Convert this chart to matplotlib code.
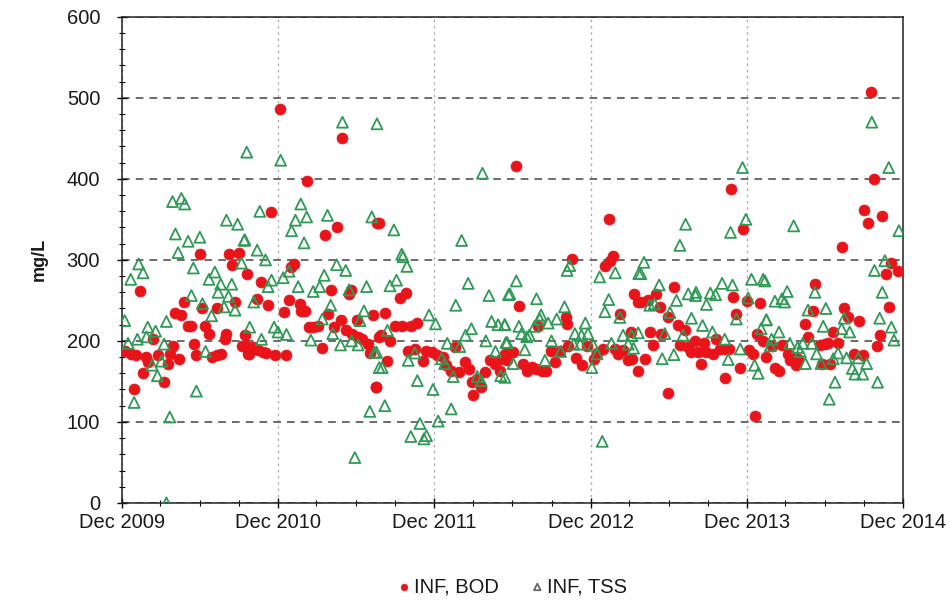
import numpy as np
import pandas as pd
import matplotlib
matplotlib.use("Agg")
import matplotlib.pyplot as plt
import matplotlib.dates as mdates

plt.rcParams["font.family"] = ["Liberation Sans", "DejaVu Sans"]

# months after Dec 2009 and concentration (mg/L)
bod_month = [0.23, 0.69, 1.13, 1.38, 0.95, 1.64, 1.9, 2.0, 2.4, 2.8, 3.25, 3.56, 3.7, 3.94, 4.4,
             4.07, 4.58, 4.8, 5.1, 5.35, 5.55, 5.73, 6.0, 6.2, 6.4, 6.7, 6.96, 7.35, 7.65, 7.35,
             7.9, 8.04, 8.24, 8.5, 9.0, 8.7, 9.2, 9.45, 9.65, 9.7,
             12.14, 16.95, 14.2, 11.5, 15.6, 16.5, 19.6, 13.24, 13.0, 10.73, 10.4, 11.24,
             12.85, 12.47, 13.67, 13.75, 14.06, 16.05, 15.85, 17.46, 17.64, 16.8, 16.3, 18.1,
             19.3, 14.4, 14.7, 15.1, 17.2, 17.7, 18.15, 18.46, 18.9, 19.05, 19.75, 15.4, 9.58,
             10.1, 10.5, 10.86, 9.8, 11.1, 11.75, 12.65, 19.5,
             19.74, 20.2, 21.86, 21.35, 20.97, 21.5, 22.2, 22.7, 19.94, 20.6, 22.0, 22.5, 20.4,
             19.56, 23.14, 23.4, 23.8, 24.2, 24.7, 24.93, 25.27, 25.57, 25.9, 26.34, 26.7, 26.86,
             27.0, 27.6, 27.3, 27.88, 28.26, 28.65, 29.03, 29.16, 29.4, 29.7,
             30.3, 37.4, 37.74, 37.5, 37.1, 34.6, 30.5, 39.35, 39.66, 38.25, 34.08, 34.2, 32.0,
             39.1, 29.8, 30.06, 29.55, 30.8, 31.1, 31.5, 31.85, 32.24, 32.6, 33.0, 33.3, 33.65,
             34.3, 34.85, 35.36, 35.7, 36.3, 36.5, 36.97, 37.9, 38.1, 38.5, 38.84, 39.15,
             46.77, 47.67, 42.4, 41.06, 39.9, 40.4, 41.3, 46.95, 47.98, 49.0, 47.2, 41.96, 42.7,
             43.24, 40.55, 41.4, 40.8, 42.85, 43.5, 44.0, 44.73, 43.75, 44.26, 44.9, 45.4, 45.6,
             45.93, 46.3, 46.6, 44.5, 40.17, 39.66, 48.2, 48.5, 48.75, 49.26, 49.5, 47.5, 46.3,
             41.96, 48.6,
             57.53, 57.79, 57.0, 57.3, 58.4, 55.28, 59.1, 58.66, 59.6, 53.23, 58.9, 55.48, 55.8,
             56.6, 53.05, 52.5, 54.64, 55.0, 58.2, 58.0, 52.7, 50.67, 49.9, 53.6, 54.0, 54.25,
             51.2, 51.6, 51.95, 51.3, 50.16, 50.47, 51.8, 56.2, 56.9, 53.74, 54.38]
bod_mgl = [188, 184, 183, 261, 141, 160, 180, 174, 202, 182, 149, 172, 184, 194, 178,
           235, 232, 248, 219, 219, 196, 183, 307, 240, 219, 209, 180, 183, 184, 241,
           202, 209, 307, 294, 309, 248, 194, 207, 282, 184,
           486, 451, 398, 359, 331, 340, 345, 295, 291, 273, 252, 244,
           251, 236, 245, 237, 237, 263, 233, 258, 263, 226, 217, 226,
           232, 217, 217, 219, 213, 209, 205, 202, 196, 185, 205, 191, 194,
           192, 189, 186, 184, 185, 183, 183, 143,
           345, 235, 259, 253, 219, 218, 219, 222, 207, 200, 187, 190, 175,
           143, 175, 188, 186, 183, 180, 170, 163, 192, 161, 174, 165, 149,
           133, 143, 153, 161, 176, 172, 163, 178, 184, 186,
           416, 351, 305, 299, 293, 301, 243, 258, 248, 233, 229, 221, 219,
           211, 185, 186, 176, 172, 163, 168, 165, 163, 163, 188, 174, 188,
           194, 179, 170, 194, 178, 185, 190, 190, 184, 189, 176, 178,
           387, 338, 266, 258, 248, 250, 242, 254, 249, 247, 233, 229, 220,
           213, 211, 209, 195, 195, 192, 200, 198, 186, 186, 186, 184, 202,
           190, 190, 190, 172, 178, 163, 189, 184, 209, 200, 180, 167, 154,
           136, 107,
           507, 400, 362, 345, 354, 316, 296, 283, 286, 270, 242, 240, 229,
           225, 237, 221, 211, 198, 207, 194, 205, 195, 194, 195, 196, 197,
           184, 180, 178, 176, 167, 163, 170, 184, 182, 172, 171]

tss_month = [0.23, 0.49, 0.69, 1.3, 1.64, 0.95, 1.2, 2.0, 1.9, 2.6, 2.33, 2.74, 3.05, 3.25, 3.43,
             3.69, 3.43, 3.9, 4.58, 4.84, 4.12, 4.33, 5.1, 6.0, 5.5, 5.73, 5.35, 6.2, 6.43, 6.9,
             6.7, 7.15, 7.6, 7.4, 7.86, 8.2, 8.45, 8.7, 8.04, 8.9, 9.4, 9.2, 9.6,
             16.95, 19.6, 12.2, 10.6, 13.75, 13.34, 14.2, 13.04, 15.8, 19.2, 14.0, 9.45, 10.4,
             11.04, 16.5, 17.2, 12.85, 12.4, 11.5, 11.24, 15.55, 15.2, 14.7, 13.55, 17.46, 18.8,
             10.14, 16.05, 18.6, 18.3, 15.4, 9.83, 11.7, 12.0, 12.65, 10.73, 16.2, 14.52, 16.8,
             17.64, 18.15, 19.4, 19.77, 19.05, 17.9,
             27.7, 26.1, 20.9, 21.5, 21.6, 21.9, 20.6, 21.1, 26.6, 28.2, 29.7, 25.65, 23.6,
             24.1, 20.4, 26.85, 28.4, 28.9, 29.4, 26.4, 25.0, 25.96, 27.96, 29.5, 19.56, 22.5,
             22.0, 24.55, 24.8, 20.0, 28.7, 25.45, 27.3, 27.6, 29.1, 22.7, 23.9, 20.2, 25.3,
             22.9, 24.3, 22.2, 23.2, 23.4,
             30.3, 29.8, 31.85, 34.4, 34.2, 36.7, 37.9, 39.7, 37.4, 37.1, 34.0, 38.25, 32.2,
             32.1, 33.4, 32.75, 35.6, 30.5, 31.7, 29.42, 30.7, 31.3, 31.1, 33.0, 34.8, 35.3,
             35.8, 38.5, 39.15, 29.6, 34.7, 35.2, 36.2, 37.6, 38.9, 39.3, 30.95, 33.7, 36.5,
             30.06, 32.5, 36.1, 29.42, 36.9,
             47.67, 47.93, 43.3, 46.75, 42.86, 40.1, 39.86, 48.36, 49.26, 46.1, 46.9, 41.27,
             43.5, 44.1, 44.06, 45.2, 45.6, 42.6, 48.1, 40.55, 40.9, 44.9, 42.1, 47.2, 43.75,
             44.6, 49.5, 39.66, 49.1, 41.7, 43.1, 45.36, 46.3, 47.5, 42.4, 41.5, 46.57, 48.6,
             48.87,
             57.6, 58.9, 59.68, 51.6, 58.6, 57.8, 53.23, 51.1, 50.7, 50.9, 50.16, 49.39, 58.4,
             52.7, 54.07, 49.5, 55.48, 58.2, 53.87, 55.28, 55.9, 59.1, 50.47, 59.3, 49.9, 51.3,
             52.3, 53.0, 49.8, 51.9, 53.36, 55.0, 52.1, 55.66, 56.56, 54.64, 52.5, 53.7, 57.2,
             56.1, 56.3, 56.9, 54.77, 58.04, 54.33]
tss_mgl = [225, 197, 276, 295, 284, 124, 202, 217, 205, 212, 170, 157, 175, 196, 224,
           106, 0, 372, 376, 369, 332, 309, 323, 328, 290, 138, 256, 246, 187, 231,
           276, 285, 270, 260, 242, 255, 270, 238, 349, 344, 324, 296, 433,
           470, 468, 423, 360, 369, 349, 353, 336, 355, 353, 321, 325, 312,
           300, 294, 287, 286, 278, 275, 267, 281, 267, 261, 267, 263, 267,
           248, 244, 237, 225, 227, 217, 217, 211, 208, 202, 209, 201, 195,
           200, 195, 186, 167, 113, 56,
           407, 324, 337, 307, 304, 292, 268, 275, 271, 256, 257, 244, 232,
           221, 213, 215, 224, 220, 220, 207, 197, 193, 200, 198, 186, 185,
           176, 178, 172, 167, 187, 156, 156, 151, 157, 151, 140, 120, 116,
           98, 101, 82, 79, 83,
           274, 258, 252, 293, 287, 279, 284, 283, 251, 236, 242, 229, 232,
           227, 227, 222, 222, 218, 218, 220, 209, 207, 205, 200, 209, 207,
           209, 207, 207, 198, 196, 196, 195, 197, 196, 191, 189, 187, 184,
           172, 176, 167, 155, 76,
           414, 350, 344, 334, 318, 297, 283, 276, 276, 271, 269, 269,
           258, 260, 256, 259, 257, 250, 253, 244, 246, 245, 235, 227, 228,
           219, 226, 210, 215, 209, 207, 211, 202, 190, 183, 178, 177, 170,
           160,
           470, 414, 336, 342, 299, 287, 260, 261, 252, 248, 249, 274, 260,
           238, 240, 226, 228, 228, 218, 215, 211, 217, 211, 201, 202, 197,
           197, 197, 194, 192, 184, 185, 187, 179, 179, 178, 172, 172, 172,
           166, 159, 159, 149, 149, 128]

start = pd.Timestamp("2009-12-01")
bod_dates = start + pd.to_timedelta(np.array(bod_month) * 30.4375, unit="D")
tss_dates = start + pd.to_timedelta(np.array(tss_month) * 30.4375, unit="D")

fig = plt.figure(figsize=(9.51, 6.03), dpi=100)
ax = fig.add_axes([0.128, 0.166, 0.8215, 0.806])

ax.scatter(bod_dates, bod_mgl, s=62, marker="o", color="#e8141a", edgecolors="#e8141a",
           linewidths=0.5, zorder=3, label="INF, BOD")
ax.scatter(tss_dates, tss_mgl, s=62, marker="^", facecolors="none", edgecolors="#2e9a55",
           linewidths=1.3, zorder=4, label="INF, TSS")

ax.set_xlim(pd.Timestamp("2009-12-01"), pd.Timestamp("2014-12-01"))
ax.set_ylim(0, 600)
ax.xaxis.set_major_locator(mdates.MonthLocator(bymonth=12, bymonthday=1))
ax.xaxis.set_minor_locator(mdates.MonthLocator(bymonth=[3, 6, 9], bymonthday=1))
ax.xaxis.set_major_formatter(mdates.DateFormatter("%b %Y"))
ax.set_yticks(np.arange(0, 601, 100))
ax.set_yticks(np.arange(0, 601, 20), minor=True)

ax.tick_params(which="major", direction="inout", length=7, width=1, labelsize=14.5,
               labelcolor="#1a1a1a")
ax.tick_params(axis="x", which="major", pad=4)
ax.tick_params(axis="y", which="major", pad=12)
ax.tick_params(which="minor", direction="inout", length=4, width=0.8)

ax.grid(axis="y", which="major", color="#444444", linestyle=(0, (5, 4)), linewidth=1.1)
ax.grid(axis="x", which="major", color="#aaaaaa", linestyle=(0, (2, 3)), linewidth=0.9)
ax.set_axisbelow(True)
for sp in ax.spines.values():
    sp.set_color("#222222")
    sp.set_linewidth(1.1)

ax.set_ylabel("mg/L", fontsize=13, fontweight="bold", labelpad=14, color="#1a1a1a")

leg = fig.legend(loc="center", bbox_to_anchor=(0.537, 0.027), ncol=2, frameon=False,
                 markerscale=0.6, handletextpad=0.0, columnspacing=1.4,
                 handlelength=1.0, prop={"size": 14.5})
leg.legend_handles[1].set_edgecolor("#666666")
for t in leg.get_texts():
    t.set_color("#1a1a1a")

fig.savefig("out.png", dpi=100)
